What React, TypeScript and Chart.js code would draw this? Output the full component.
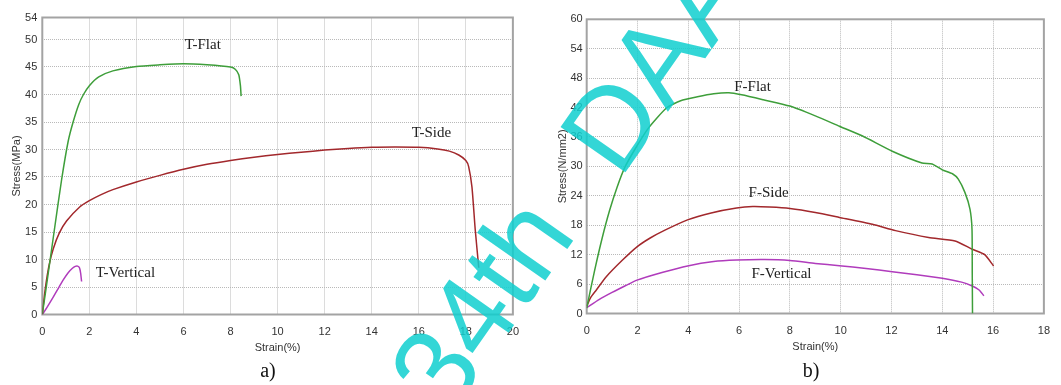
import React, { useEffect, useRef } from 'react';
import { Chart, registerables } from 'chart.js';

Chart.register(...registerables);

// ---------- Data: panel a) (T specimens) ----------
const tFlatStrain = [0, 0.17, 0.5, 0.82, 1.1, 1.31, 1.55, 1.75, 2.0, 2.4, 3.0, 4.0, 5.0, 6.0, 7.0, 8.0, 8.2, 8.35, 8.42, 8.45];
const tFlatStress = [0, 5, 15, 24.5, 31.5, 35, 38.2, 40, 41.6, 43.2, 44.3, 45.1, 45.4, 45.6, 45.4, 45.0, 44.6, 43.6, 41.6, 39.7];

const tSideStrain = [0, 0.12, 0.29, 0.47, 0.72, 1.03, 1.6, 2.0, 2.5, 3, 4, 5, 6, 7, 8, 9, 10, 11, 12, 13, 14, 15, 16, 16.8, 17.3, 17.7, 18.0, 18.12, 18.26, 18.4, 18.55];
const tSideStress = [0, 4.5, 9, 12, 14.8, 17.0, 19.6, 20.7, 21.8, 22.7, 24.1, 25.3, 26.4, 27.3, 28, 28.6, 29.1, 29.5, 29.9, 30.2, 30.4, 30.45, 30.4, 30.1, 29.7, 29.0, 28.0, 26.9, 23.2, 15.4, 8.5];

const tVertStrain = [0, 0.2, 0.47, 0.7, 0.89, 1.1, 1.28, 1.4, 1.5, 1.58, 1.63, 1.67];
const tVertStress = [0, 1.3, 3.2, 4.9, 6.3, 7.6, 8.4, 8.75, 8.8, 8.5, 7.5, 6.0];

// ---------- Data: panel b) (F specimens) ----------
const fFlatStrain = [0, 0.3, 0.6, 0.9, 1.2, 1.5, 1.9, 2.43, 3.14, 3.7, 4.36, 5.0, 5.6, 6.1, 6.95, 8.0, 9.0, 9.95, 10.86, 12.03, 13.2, 13.6, 14.0, 14.4, 14.63, 14.89, 15.09, 15.17, 15.18, 15.19];
const fFlatStress = [1.1, 8.5, 15.2, 21.0, 25.8, 29.8, 33.5, 37.8, 41.9, 43.4, 44.2, 44.8, 45.0, 44.6, 43.6, 42.3, 40.3, 38.2, 36.2, 33.1, 30.7, 30.5, 29.3, 28.5, 27.4, 24.7, 21.3, 17.2, 8, 0];

const fSideStrain = [0, 0.15, 0.38, 0.77, 1.41, 1.98, 2.5, 3.08, 3.97, 4.9, 5.9, 6.54, 7.2, 8.0, 9, 9.95, 11.25, 12.16, 13.46, 14.5, 15.18, 15.67, 16.02];
const fSideStress = [1.5, 3.2, 4.8, 7.5, 10.9, 13.6, 15.4, 17.0, 19.1, 20.5, 21.5, 21.8, 21.7, 21.4, 20.6, 19.6, 18.2, 16.9, 15.5, 14.8, 13.1, 12.0, 9.7];

const fVertStrain = [0, 0.5, 1, 1.5, 1.98, 3, 3.97, 5, 5.9, 7, 8, 9, 9.95, 11, 12.03, 13, 14, 14.76, 15.18, 15.45, 15.64];
const fVertStress = [1.2, 2.9, 4.3, 5.6, 6.8, 8.4, 9.7, 10.6, 10.9, 11.0, 10.8, 10.2, 9.75, 9.2, 8.5, 7.9, 7.2, 6.4, 5.6, 4.8, 3.6];

// ---------- Ticks ----------
const aXTicks = [0, 2, 4, 6, 8, 10, 12, 14, 16, 18, 20];
const aYTicks = [0, 5, 10, 15, 20, 25, 30, 35, 40, 45, 50, 54];
const bXTicks = [0, 2, 4, 6, 8, 10, 12, 14, 16, 18];
const bYTicks = [0, 6, 12, 18, 24, 30, 36, 42, 48, 54, 60];

// ---------- Curve labels ----------
const aLabelText = ['T-Flat', 'T-Side', 'T-Vertical'];
const aLabelX = [6.82, 16.54, 3.53];
const aLabelY = [49.0, 33.0, 7.5];
const bLabelText = ['F-Flat', 'F-Side', 'F-Vertical'];
const bLabelX = [6.53, 7.16, 7.67];
const bLabelY = [46.2, 24.5, 8.06];

// ---------- Watermark text ----------
const markPart1 = '34th';
const markPart2 = 'DAAAM';

const GREEN = '#3e9e3a';
const RED = '#a2282c';
const PURPLE = '#b03cbc';

const zip = (xs: number[], ys: number[]) => xs.map((x, i) => ({ x, y: ys[i] }));

const framePlugin = {
  id: 'frame',
  beforeDatasetsDraw(chart: any) {
    const { ctx, chartArea: a } = chart;
    ctx.save();
    ctx.strokeStyle = '#a3a3a3';
    ctx.lineWidth = 2;
    ctx.strokeRect(a.left, a.top, a.right - a.left, a.bottom - a.top);
    ctx.restore();
  },
};

function labelPlugin(texts: string[], xs: number[], ys: number[]) {
  return {
    id: 'curveLabels',
    afterDatasetsDraw(chart: any) {
      const { ctx } = chart;
      const sx = chart.scales.x;
      const sy = chart.scales.y;
      ctx.save();
      ctx.font = '15px "Liberation Serif"';
      ctx.fillStyle = '#222';
      ctx.textAlign = 'center';
      ctx.textBaseline = 'middle';
      texts.forEach((t, i) => {
        ctx.fillText(t, sx.getPixelForValue(xs[i]), sy.getPixelForValue(ys[i]));
      });
      ctx.restore();
    },
  };
}

interface PanelOpts {
  series: { xs: number[]; ys: number[]; color: string }[];
  xTicks: number[];
  yTicks: number[];
  xMax: number;
  yMax: number;
  yTitle: string;
  padLeft: number;
  padRight: number;
  padTop: number;
  padBottom: number;
  yWidth: number;
  xHeight: number;
  tickPadY: number;
  labels: any;
}

function makeConfig(o: PanelOpts): any {
  const tickFont = { family: '"Liberation Sans", Arial, sans-serif', size: 11 };
  const grid = { color: '#b9b9b9', lineWidth: 1, drawTicks: false };
  const border = { display: false, dash: [1, 1] };
  return {
    type: 'scatter',
    data: {
      datasets: o.series.map((s) => ({
        data: zip(s.xs, s.ys),
        showLine: true,
        borderColor: s.color,
        backgroundColor: s.color,
        borderWidth: 1.5,
        pointRadius: 0,
        pointHoverRadius: 0,
        tension: 0.2,
        fill: false,
      })),
    },
    options: {
      responsive: false,
      animation: false,
      devicePixelRatio: 1,
      events: [],
      layout: { padding: { left: o.padLeft, right: o.padRight, top: o.padTop, bottom: o.padBottom } },
      plugins: { legend: { display: false }, tooltip: { enabled: false } },
      scales: {
        x: {
          type: 'linear',
          min: 0,
          max: o.xMax,
          grid,
          border,
          afterBuildTicks: (s: any) => { s.ticks = o.xTicks.map((v) => ({ value: v })); },
          afterFit: (s: any) => { s.height = o.xHeight; },
          ticks: { font: tickFont, color: '#333', padding: 11, maxRotation: 0, autoSkip: false },
          title: { display: true, text: 'Strain(%)', font: tickFont, color: '#333', padding: 0 },
        },
        y: {
          type: 'linear',
          min: 0,
          max: o.yMax,
          grid,
          border,
          afterBuildTicks: (s: any) => { s.ticks = o.yTicks.map((v) => ({ value: v })); },
          afterFit: (s: any) => { s.width = o.yWidth; },
          ticks: { font: tickFont, color: '#333', padding: o.tickPadY, autoSkip: false },
          title: { display: true, text: o.yTitle, font: tickFont, color: '#333', padding: 0 },
        },
      },
    },
    plugins: [framePlugin, o.labels],
  };
}

export default function App() {
  const leftRef = useRef<HTMLCanvasElement>(null);
  const rightRef = useRef<HTMLCanvasElement>(null);
  const markRef = useRef<HTMLCanvasElement>(null);

  useEffect(() => {
    const c1 = new Chart(leftRef.current as HTMLCanvasElement, makeConfig({
      series: [
        { xs: tFlatStrain, ys: tFlatStress, color: GREEN },
        { xs: tSideStrain, ys: tSideStress, color: RED },
        { xs: tVertStrain, ys: tVertStress, color: PURPLE },
      ],
      xTicks: aXTicks,
      yTicks: aYTicks,
      xMax: 20,
      yMax: 54,
      yTitle: 'Stress(MPa)',
      padLeft: 10.3,
      padRight: 15.7,
      padTop: 17.5,
      padBottom: 5.4,
      yWidth: 32,
      xHeight: 40.1,
      tickPadY: 5,
      labels: labelPlugin(aLabelText, aLabelX, aLabelY),
    }));
    const c2 = new Chart(rightRef.current as HTMLCanvasElement, makeConfig({
      series: [
        { xs: fFlatStrain, ys: fFlatStress, color: GREEN },
        { xs: fSideStrain, ys: fSideStress, color: RED },
        { xs: fVertStrain, ys: fVertStress, color: PURPLE },
      ],
      xTicks: bXTicks,
      yTicks: bYTicks,
      xMax: 18,
      yMax: 60,
      yTitle: 'Stress(N/mm2)',
      padLeft: 26,
      padRight: 6.3,
      padTop: 19.3,
      padBottom: 6.9,
      yWidth: 30.7,
      xHeight: 39.6,
      tickPadY: 4,
      labels: labelPlugin(bLabelText, bLabelX, bLabelY),
    }));

    const mc = markRef.current as HTMLCanvasElement;
    const ctx = mc.getContext('2d');
    if (ctx) {
      ctx.clearRect(0, 0, mc.width, mc.height);
      const ang = (-55 * Math.PI) / 180;
      ctx.font = '115px "Liberation Sans"';
      ctx.fillStyle = 'rgba(15,207,207,0.85)';
      ctx.textBaseline = 'alphabetic';
      ctx.save();
      ctx.translate(449, 418);
      ctx.rotate(ang);
      ctx.fillText(markPart1, 0, 0);
      ctx.restore();
      ctx.save();
      ctx.translate(620, 180);
      ctx.rotate(ang);
      ctx.fillText(markPart2, 0, 0);
      ctx.restore();
    }

    return () => {
      c1.destroy();
      c2.destroy();
    };
  }, []);

  const capStyle: React.CSSProperties = {
    position: 'absolute',
    top: 358,
    width: 60,
    marginLeft: -30,
    textAlign: 'center',
    fontFamily: '"Liberation Serif", "Times New Roman", serif',
    fontSize: 20,
    lineHeight: '24px',
    color: '#111',
  };

  return (
    <div style={{ position: 'absolute', left: 0, top: 0, width: 1061, height: 385, overflow: 'hidden', background: '#fff' }}>
      <canvas ref={leftRef} width={530} height={360} style={{ position: 'absolute', left: 0, top: 0, width: 530, height: 360 }} />
      <canvas ref={rightRef} width={531} height={360} style={{ position: 'absolute', left: 530, top: 0, width: 531, height: 360 }} />
      <div style={{ ...capStyle, left: 268 }}>a)</div>
      <div style={{ ...capStyle, left: 811 }}>b)</div>
      <canvas ref={markRef} width={1061} height={385} style={{ position: 'absolute', left: 0, top: 0, width: 1061, height: 385, pointerEvents: 'none' }} />
    </div>
  );
}
